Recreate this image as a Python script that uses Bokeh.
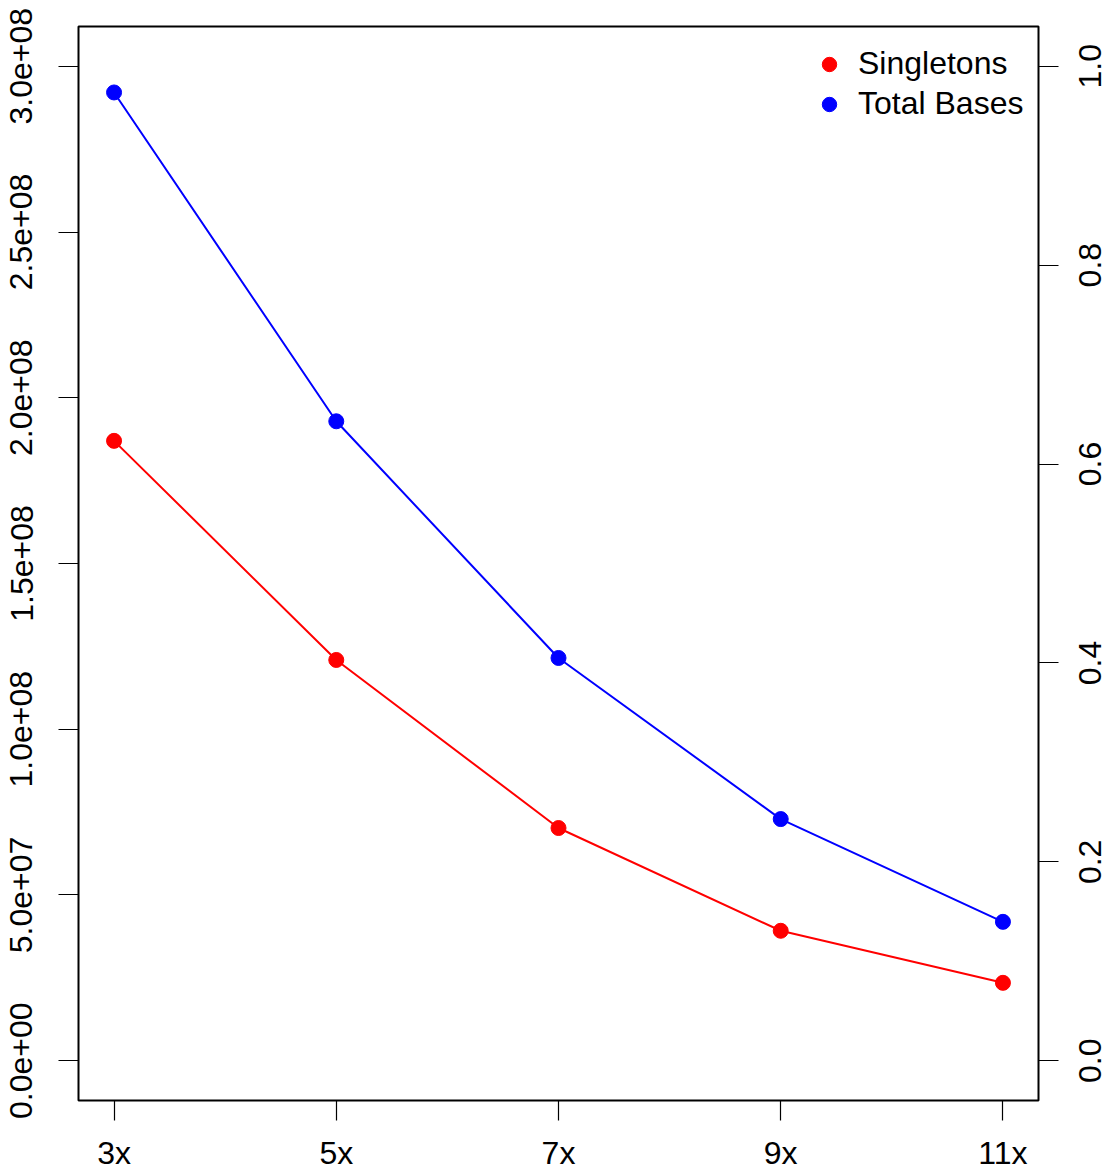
import math
from bokeh.plotting import figure
from bokeh.models import Range1d, LinearAxis, FixedTicker, Legend, LegendItem
from bokeh.embed import file_html
from bokeh.resources import INLINE

# ---- data ----
coverage_labels = ["3x", "5x", "7x", "9x", "11x"]
coverage = [3, 5, 7, 9, 11]
singletons = [1.870e8, 1.209e8, 7.02e7, 3.92e7, 2.35e7]
total_bases = [2.921e8, 1.929e8, 1.215e8, 7.29e7, 4.19e7]

left_ticks = [0, 5e7, 1e8, 1.5e8, 2e8, 2.5e8, 3e8]
left_tick_labels = ["0.0e+00", "5.0e+07", "1.0e+08", "1.5e+08", "2.0e+08", "2.5e+08", "3.0e+08"]
right_ticks = [0.0, 0.2, 0.4, 0.6, 0.8, 1.0]
right_tick_labels = ["0.0", "0.2", "0.4", "0.6", "0.8", "1.0"]

FONT = "Liberation Sans"
FS = "32px"
FRAME_H = 1100 - 26          # frame height in px
R_LO, R_HI = -0.04, 1.04     # right-axis range

p = figure(width=1115, height=1174, output_backend="svg", toolbar_location=None,
           x_range=Range1d(2.68, 11.32), y_range=Range1d(-1.2e7, 3.12e8),
           min_border_left=78, min_border_right=77, min_border_top=26, min_border_bottom=74,
           x_axis_location="below", y_axis_location="left")

# right-hand labels read upward and start at their anchor; shift their axis by half a label length
half_label_px = 0.5 * 1.39 * 32
shift = half_label_px * (R_HI - R_LO) / FRAME_H
p.extra_y_ranges = {"right": Range1d(R_LO, R_HI),
                    "right_lab": Range1d(R_LO + shift, R_HI + shift)}

p.xgrid.visible = False
p.ygrid.visible = False
p.outline_line_color = "black"
p.outline_line_width = 2
p.background_fill_color = "white"
p.border_fill_color = "white"

# lines and points
p.line(coverage, singletons, line_color="#FF0000", line_width=2)
r_s = p.scatter(coverage, singletons, size=15, fill_color="#FF0000", line_color="#FF0000")
p.line(coverage, total_bases, line_color="#0000FF", line_width=2)
r_t = p.scatter(coverage, total_bases, size=15, fill_color="#0000FF", line_color="#0000FF")

# axes
def style_axis(ax):
    ax.axis_line_color = None
    ax.major_tick_out = 20
    ax.major_tick_in = 0
    ax.minor_tick_out = 0
    ax.minor_tick_in = 0
    ax.major_tick_line_color = "black"
    ax.major_tick_line_width = 1.2
    ax.major_label_text_font = FONT
    ax.major_label_text_font_size = FS
    ax.major_label_text_color = "black"

xa = p.xaxis[0]
style_axis(xa)
xa.ticker = FixedTicker(ticks=coverage)
xa.major_label_overrides = {c: l for c, l in zip(coverage, coverage_labels)}
xa.major_label_standoff = 14

ya = p.yaxis[0]
style_axis(ya)
ya.ticker = FixedTicker(ticks=left_ticks)
ya.major_label_overrides = {t: l for t, l in zip(left_ticks, left_tick_labels)}
ya.major_label_orientation = "vertical"
ya.major_label_standoff = 26

# right axis, ticks only
ra = LinearAxis(y_range_name="right")
style_axis(ra)
ra.ticker = FixedTicker(ticks=right_ticks)
ra.major_label_overrides = {t: "" for t in right_ticks}
ra.major_label_text_font_size = "0px"
ra.major_label_standoff = 0
p.add_layout(ra, "right")

# right axis labels, reading upward
ral = LinearAxis(y_range_name="right_lab")
style_axis(ral)
ral.major_tick_out = 0
ral.major_tick_line_color = None
ral.ticker = FixedTicker(ticks=right_ticks)
ral.major_label_overrides = {t: l for t, l in zip(right_ticks, right_tick_labels)}
ral.major_label_orientation = math.pi / 2
ral.major_label_standoff = 32
p.add_layout(ral, "right")

legend = Legend(items=[LegendItem(label="Singletons", renderers=[r_s]),
                       LegendItem(label="Total Bases", renderers=[r_t])],
                location=(719, 964))
legend.border_line_alpha = 0
legend.background_fill_alpha = 0
legend.label_text_font = FONT
legend.label_text_font_size = FS
legend.label_text_color = "black"
legend.glyph_width = 36
legend.glyph_height = 36
legend.label_standoff = 11
legend.spacing = 3
legend.padding = 14
legend.margin = 0
p.add_layout(legend)

open("out.html", "w").write(file_html(p, INLINE))
